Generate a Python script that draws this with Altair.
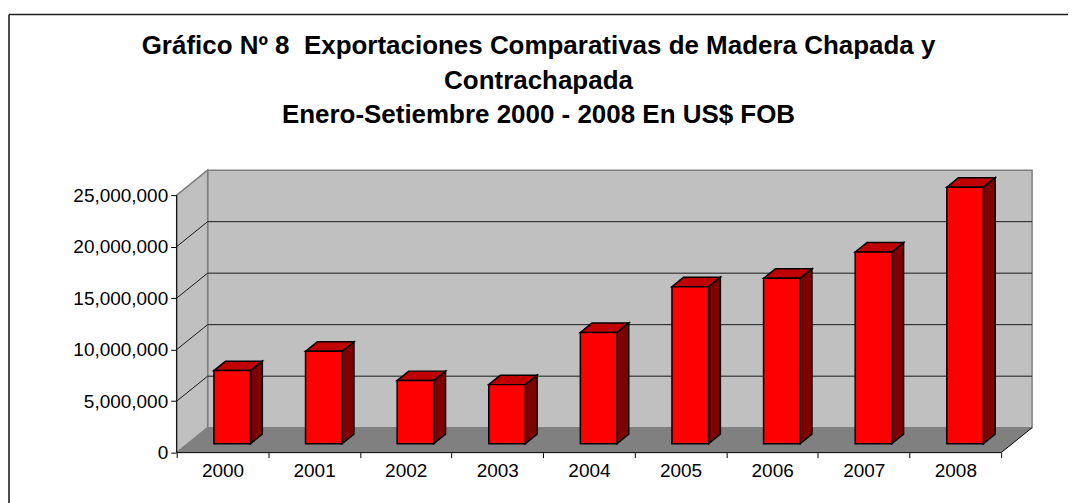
import json
import altair as alt
import pandas as pd

# ---------------- data ----------------
years = ["2000", "2001", "2002", "2003", "2004", "2005", "2006", "2007", "2008"]
values = [7090000, 8960000, 6120000, 5730000, 10800000, 15240000, 16050000, 18600000, 24900000]
y_ticks = [0, 5000000, 10000000, 15000000, 20000000, 25000000]
title_lines = [
    "Gráfico Nº 8\u00a0 Exportaciones Comparativas de Madera Chapada y",
    "Contrachapada",
    "Enero-Setiembre 2000 - 2008 En US$ FOB",
]

# ---------------- layout / styling ----------------
FONT = "Liberation Sans"
W, H = 1061, 490
PX_X = 91.78            # pixels per category on the front plane
PX_Y = 10.32e-6         # pixels per unit value
ORIG_X, ORIG_Y = 168, 439   # pixel position of the front origin inside the plot
n = len(years)
top = y_ticks[-1]

DX = 31 / PX_X          # full depth of the 3D box in x units
DY = 25 / PX_Y          # full depth of the 3D box in y units
ZF, ZD = 0.36, 0.38     # bar front depth, bar thickness (fractions of depth)
HW = 0.2                # half bar width (category units)

XD = [-ORIG_X / PX_X, (W - ORIG_X) / PX_X]
YD = [-(H - ORIG_Y) / PX_Y, ORIG_Y / PX_Y]
xs = alt.Scale(domain=XD, nice=False, zero=False)
ys = alt.Scale(domain=YD, nice=False, zero=False)

xaxis = alt.Axis(
    values=list(range(n + 1)),
    labelExpr=f"{json.dumps(years)}[datum.value] || ''",
    labelOffset=PX_X / 2, offset=-(H - ORIG_Y), tickSize=5, tickColor="black",
    domain=False, grid=False, title=None, labelFontSize=19, labelFont=FONT,
    labelColor="black", labelPadding=4, labelAngle=0, labelFlush=False,
)
yaxis = alt.Axis(
    values=y_ticks, format=",.0f", offset=-ORIG_X, tickSize=6, tickColor="black",
    domain=False, grid=False, title=None, labelFontSize=19, labelFont=FONT,
    labelColor="black", labelPadding=3,
)


def X(f):
    return alt.X(f, type="quantitative", scale=xs, axis=xaxis)


def Y(f):
    return alt.Y(f, type="quantitative", scale=ys, axis=yaxis)


# ---------------- chart-area frame (left and top edges) ----------------
frame = pd.DataFrame([
    {"x": XD[0], "x2": XD[0], "y": YD[0], "y2": YD[1]},
    {"x": XD[0], "x2": XD[1], "y": YD[1], "y2": YD[1]},
])
frame_l = alt.Chart(frame).mark_rule(color="#222222", strokeWidth=1.6).encode(
    x=X("x"), x2="x2", y=Y("y"), y2="y2")

# ---------------- 3D box ----------------
back = pd.DataFrame([{"x": DX, "x2": n + DX, "y": DY, "y2": top + DY}])
back_wall = alt.Chart(back).mark_rect(fill="#C0C0C0", stroke="#808080", strokeWidth=1.5).encode(
    x=X("x"), x2="x2", y=Y("y"), y2="y2")

side = pd.DataFrame([{"x": 0, "y": 0, "y2": top}, {"x": DX, "y": DY, "y2": top + DY}])
side_wall = alt.Chart(side).mark_area(orient="vertical", fill="#C0C0C0", stroke="#808080",
                                      strokeWidth=1.5).encode(x=X("x"), y=Y("y"), y2="y2")

floor = pd.DataFrame([{"y": 0, "x": 0, "x2": n}, {"y": DY, "x": DX, "x2": n + DX}])
floor_l = alt.Chart(floor).mark_area(orient="horizontal", fill="#808080").encode(
    y=Y("y"), x=X("x"), x2="x2")

grid_vals = y_ticks[1:-1]
gb = pd.DataFrame({"x": DX, "x2": n + DX, "y": [v + DY for v in grid_vals]})
grid_back = alt.Chart(gb).mark_rule(color="#1a1a1a", strokeWidth=1).encode(
    x=X("x"), x2="x2", y=Y("y"))
gs = pd.DataFrame({"x": 0.0, "x2": DX, "y": grid_vals, "y2": [v + DY for v in grid_vals]})
grid_side = alt.Chart(gs).mark_rule(color="#1a1a1a", strokeWidth=1).encode(
    x=X("x"), x2="x2", y=Y("y"), y2="y2")

edges = pd.DataFrame([
    {"x": 0.0, "x2": 0.0, "y": 0.0, "y2": top},
    {"x": 0.0, "x2": float(n), "y": 0.0, "y2": 0.0},
    {"x": float(n), "x2": n + DX, "y": 0.0, "y2": DY},
])
edge_l = alt.Chart(edges).mark_rule(color="black", strokeWidth=1).encode(
    x=X("x"), x2="x2", y=Y("y"), y2="y2")

# ---------------- bars ----------------
front_rows, side_rows, top_rows = [], [], []
for i, (yr, v) in enumerate(zip(years, values)):
    xl = i + 0.5 - HW + ZF * DX - 0.015
    xr = xl + 2 * HW
    front_rows.append({"year": yr, "x": xl, "x2": xr, "y": ZF * DY, "y2": v + ZF * DY})
    side_rows += [
        {"year": yr, "x": xr, "y": ZF * DY, "y2": v + ZF * DY},
        {"year": yr, "x": xr + ZD * DX, "y": (ZF + ZD) * DY, "y2": v + (ZF + ZD) * DY},
    ]
    top_rows += [
        {"year": yr, "y": v + ZF * DY, "x": xl, "x2": xr},
        {"year": yr, "y": v + (ZF + ZD) * DY, "x": xl + ZD * DX, "x2": xr + ZD * DX},
    ]

bar_side = alt.Chart(pd.DataFrame(side_rows)).mark_area(
    orient="vertical", fill="#800000", stroke="black", strokeWidth=1.5).encode(
    x=X("x"), y=Y("y"), y2="y2", detail="year:N")
bar_top = alt.Chart(pd.DataFrame(top_rows)).mark_area(
    orient="horizontal", fill="#C00000", stroke="black", strokeWidth=1.5).encode(
    y=Y("y"), x=X("x"), x2="x2", detail="year:N")
bar_front = alt.Chart(pd.DataFrame(front_rows)).mark_rect(
    fill="#FF0000", stroke="black", strokeWidth=1.5).encode(
    x=X("x"), x2="x2", y=Y("y"), y2="y2")

chart = alt.layer(
    frame_l, back_wall, side_wall, floor_l, grid_back, grid_side, edge_l,
    bar_side, bar_top, bar_front
).properties(
    width=W, height=H,
    padding={"left": 0, "top": 5, "right": 0, "bottom": 0},
    title=alt.TitleParams(
        text=title_lines, font=FONT, fontSize=26, fontWeight="bold", color="black",
        lineHeight=35, anchor="middle", baseline="alphabetic", offset=-136,
    ),
).configure(background="white").configure_view(stroke=None)

chart.save("out.html", embed_options={"renderer": "svg", "actions": False})
